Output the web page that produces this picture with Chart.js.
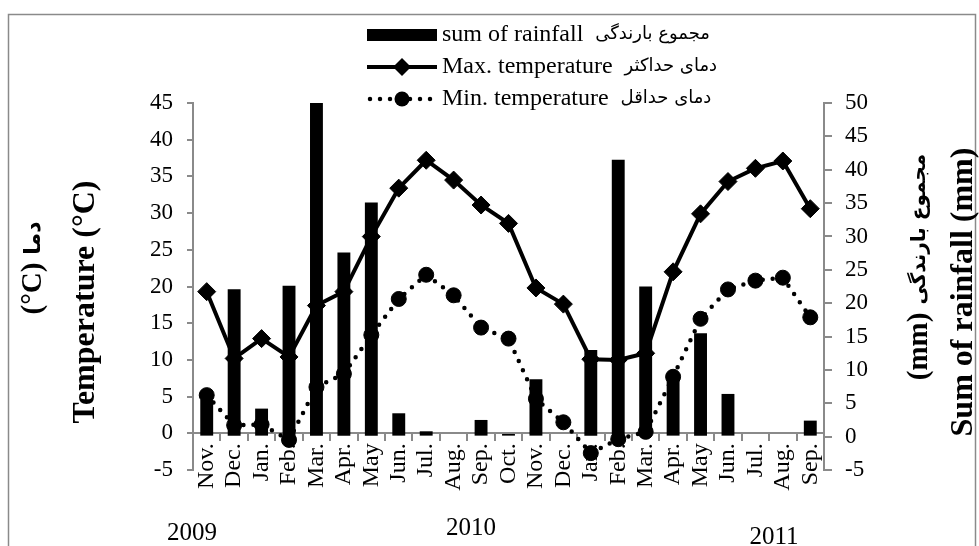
<!DOCTYPE html>
<html>
<head>
<meta charset="utf-8">
<script src="https://cdn.jsdelivr.net/npm/chart.js@4.4.1/dist/chart.umd.min.js"></script>
<style>
	html, body {margin: 0; padding: 0; background: #fff;}
	canvas {display: block;}
</style>
</head>
<body>
<canvas id="chart" width="979" height="546"></canvas>
<script>
// Nov 2009 .. Sep 2011
var months = ['Nov.', 'Dec.', 'Jan.', 'Feb.', 'Mar.', 'Apr.', 'May', 'Jun.', 'Jul.', 'Aug.', 'Sep.', 'Oct.',
	'Nov.', 'Dec.', 'Jan.', 'Feb.', 'Mar.', 'Apr.', 'May', 'Jun.', 'Jul.', 'Aug.', 'Sep.'];

// mm, right axis
var rainfall = [5.5, 22.1, 4.2, 22.6, 50, 27.6, 35.1, 3.5, 0.8, 0, 2.5, 0.4,
	8.6, 0, 13.0, 41.5, 22.5, 8.8, 15.5, 6.4, 0, 0, 2.4];

// deg C, left axis
var maxTemperature = [19.3, 10.2, 12.9, 10.4, 17.4, 19.3, 26.8, 33.4, 37.2, 34.5, 31.1, 28.6,
	19.8, 17.6, 10.1, 10.0, 10.9, 22.0, 29.9, 34.3, 36.1, 37.1, 30.6];

var minTemperature = [5.2, 1.1, 1.2, -0.9, 6.3, 8.1, 13.4, 18.3, 21.6, 18.8, 14.4, 12.9,
	4.7, 1.5, -2.7, -0.8, 0.2, 7.7, 15.6, 19.6, 20.8, 21.2, 15.8];

var years = ['2009', '2010', '2011'];

var temperatureRange = [-5, 45];
var rainfallRange = [-5, 50];
var tickStep = 5;

var serif = "'Liberation Serif', 'Times New Roman', serif";
var persian = "'DejaVu Sans', sans-serif";
var axisGrey = '#8a8a8a';

// draws a row of text parts (english + persian) left to right, optionally rotated
function drawParts(ctx, parts, x, y, align, rotate)
{
	ctx.save();
	ctx.translate(x, y);
	if (rotate) {ctx.rotate(-Math.PI / 2)};
	ctx.textBaseline = 'middle';
	ctx.textAlign = 'left';

	var total = 0;
	parts.forEach(function (part)
	{
		ctx.font = part.font;
		part.width = ctx.measureText(part.text).width;
		total += part.width + (part.gap || 0);
	});

	var cx = (align == 'center') ? -total / 2 : 0;

	parts.forEach(function (part)
	{
		ctx.font = part.font;
		ctx.fillText(part.text, cx, part.dy || 0);
		cx += part.width + (part.gap || 0);
	});
	ctx.restore();
}

var decorations =
{
	id: 'decorations',
	beforeDraw: function (chart)
	{
		var ctx = chart.ctx;
		ctx.save();
		ctx.fillStyle = '#fff';
		ctx.fillRect(0, 0, chart.width, chart.height);
		ctx.strokeStyle = axisGrey;
		ctx.lineWidth = 1.5;
		ctx.strokeRect(8.5, 14.5, 967, 600);
		ctx.restore();
	},
	afterDraw: function (chart)
	{
		var ctx = chart.ctx;
		ctx.save();
		ctx.fillStyle = '#000';

		// axis titles
		drawParts(ctx, [{text: '(°C)', font: 'bold 29px ' + serif, gap: 8}, {text: 'دما', font: 'bold 22px ' + persian}], 34, 268, 'center', true);
		drawParts(ctx, [{text: 'Temperature (°C)', font: 'bold 32px ' + serif}], 86, 302, 'center', true);
		drawParts(ctx, [{text: '(mm)', font: 'bold 29px ' + serif, gap: 8}, {text: 'مجموع بارندگی', font: 'bold 20px ' + persian}], 920, 267, 'center', true);
		drawParts(ctx, [{text: 'Sum of rainfall (mm)', font: 'bold 32px ' + serif}], 964, 292, 'center', true);

		// year captions
		ctx.font = '25px ' + serif;
		ctx.textAlign = 'center';
		ctx.textBaseline = 'middle';
		var yearPos = [[192, 533], [471, 528], [774, 537]];
		years.forEach(function (year, i)
		{
			ctx.fillText(year, yearPos[i][0], yearPos[i][1]);
		});

		// legend
		var rowY = [35, 67, 99];
		var x0 = 367, x1 = 437, xm = 402;

		chart.data.datasets.forEach(function (ds, i)
		{
			var y = rowY[i];
			ctx.save();
			ctx.fillStyle = '#000';
			ctx.strokeStyle = '#000';

			if (ds.type == 'bar')
			{
				ctx.fillRect(x0, y - 6, x1 - x0, 12);
			}
			else
			{
				ctx.lineWidth = ds.borderWidth;
				ctx.lineCap = ds.borderCapStyle || 'butt';
				ctx.setLineDash(ds.borderDash || []);
				ctx.beginPath();
				ctx.moveTo(x0 + (ds.borderDash ? 3 : 0), y);
				ctx.lineTo(x1, y);
				ctx.stroke();
				ctx.setLineDash([]);

				ctx.beginPath();
				if (ds.pointStyle == 'rectRot')
				{
					var r = ds.pointRadius;
					ctx.moveTo(xm, y - r);
					ctx.lineTo(xm + r, y);
					ctx.lineTo(xm, y + r);
					ctx.lineTo(xm - r, y);
					ctx.closePath();
				}
				else
				{
					ctx.arc(xm, y, ds.pointRadius, 0, Math.PI * 2);
				}
				ctx.fill();
			}
			ctx.restore();

			drawParts(ctx, [{text: ds.label, font: '24px ' + serif, gap: 12}, {text: ds.labelFa, font: '18px ' + persian, dy: -1}], 442, y, 'left', false);
		});

		ctx.restore();
	}
};

new Chart(document.getElementById('chart'),
{
	type: 'bar',
	data:
	{
		labels: months,
		datasets:
		[
			{
				type: 'bar',
				label: 'sum of rainfall',
				labelFa: 'مجموع بارندگی',
				data: rainfall,
				yAxisID: 'y1',
				backgroundColor: '#000',
				borderWidth: 0,
				barPercentage: 0.47,
				categoryPercentage: 1,
				order: 3
			},
			{
				type: 'line',
				label: 'Max. temperature',
				labelFa: 'دمای حداکثر',
				data: maxTemperature,
				yAxisID: 'y',
				borderColor: '#000',
				borderWidth: 4,
				pointStyle: 'rectRot',
				pointRadius: 9,
				pointBackgroundColor: '#000',
				pointBorderColor: '#000',
				pointBorderWidth: 1,
				tension: 0,
				fill: false,
				order: 1
			},
			{
				type: 'line',
				label: 'Min. temperature',
				labelFa: 'دمای حداقل',
				data: minTemperature,
				yAxisID: 'y',
				borderColor: '#000',
				borderWidth: 4.5,
				borderDash: [0, 10],
				borderCapStyle: 'round',
				pointStyle: 'circle',
				pointRadius: 7.5,
				pointBackgroundColor: '#000',
				pointBorderColor: '#000',
				pointBorderWidth: 1,
				tension: 0,
				fill: false,
				order: 2
			}
		]
	},
	options:
	{
		responsive: false,
		animation: false,
		devicePixelRatio: 1,
		layout: {padding: {top: 103, left: 0, right: 0, bottom: 76}},
		plugins:
		{
			legend: {display: false},
			tooltip: {enabled: false}
		},
		scales:
		{
			x:
			{
				position: {y: 0},
				offset: true,
				grid: {offset: true, drawOnChartArea: false, drawTicks: true, tickLength: 7, color: axisGrey, lineWidth: 2},
				border: {display: true, color: axisGrey, width: 2},
				ticks:
				{
					autoSkip: false,
					minRotation: 90,
					maxRotation: 90,
					padding: 3,
					color: '#000',
					font: {family: serif, size: 24}
				}
			},
			y:
			{
				position: 'left',
				min: temperatureRange[0],
				max: temperatureRange[1],
				grid: {drawOnChartArea: false, drawTicks: true, tickLength: 6, color: axisGrey, lineWidth: 2},
				border: {display: true, color: axisGrey, width: 2},
				ticks: {stepSize: tickStep, autoSkip: false, padding: 14, color: '#000', font: {family: serif, size: 23}},
				afterFit: function (scale) {scale.width = 193;}
			},
			y1:
			{
				position: 'right',
				min: rainfallRange[0],
				max: rainfallRange[1],
				grid: {drawOnChartArea: false, drawTicks: true, tickLength: 8, color: axisGrey, lineWidth: 2},
				border: {display: true, color: axisGrey, width: 2},
				ticks: {stepSize: tickStep, autoSkip: false, padding: 13, color: '#000', font: {family: serif, size: 23}},
				afterFit: function (scale) {scale.width = 155;}
			}
		}
	},
	plugins: [decorations]
});
</script>
</body>
</html>
